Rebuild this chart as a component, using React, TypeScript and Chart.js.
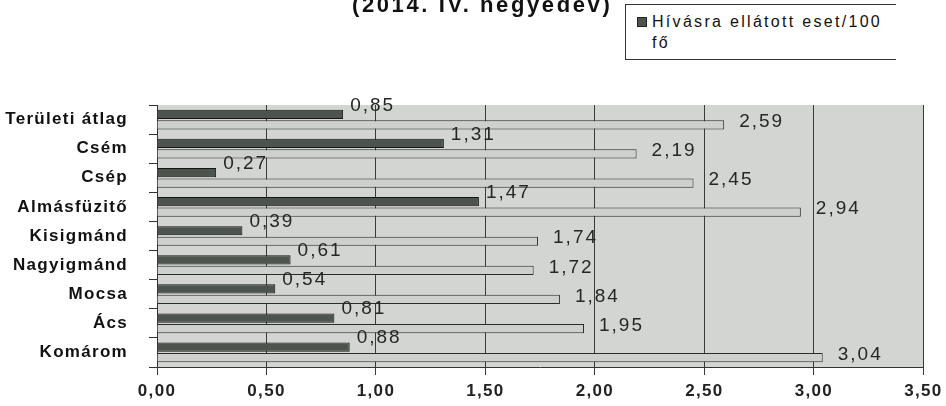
import React, { useEffect, useRef } from "react";
import { Chart, registerables } from "chart.js";

Chart.register(...registerables);

const categories = [
  "Területi átlag",
  "Csém",
  "Csép",
  "Almásfüzitő",
  "Kisigmánd",
  "Nagyigmánd",
  "Mocsa",
  "Ács",
  "Komárom",
];
const callsPer100 = [0.85, 1.31, 0.27, 1.47, 0.39, 0.61, 0.54, 0.81, 0.88];
const secondSeries = [2.59, 2.19, 2.45, 2.94, 1.74, 1.72, 1.84, 1.95, 3.04];
const seriesNames = ["Hívásra ellátott eset/100 fő", ""];
const titleText = "(2014. IV. negyedév)";
const xMin = 0;
const xMax = 3.5;
const xStep = 0.5;

const FONT = '"Liberation Sans", Arial, sans-serif';
const fmt = (v: number) => v.toFixed(2).replace(".", ",");

const DARK = "#4d544e";
const LIGHT = "#cdd0cc";

export default function App() {
  const ref = useRef<HTMLCanvasElement | null>(null);

  useEffect(() => {
    const canvas = ref.current;
    if (!canvas) return;

    const bgPlugin = {
      id: "wallBg",
      beforeDraw(chart: any) {
        const { ctx, chartArea } = chart;
        ctx.letterSpacing = "1.3px";
        ctx.save();
        ctx.fillStyle = "#d2d5d1";
        ctx.fillRect(
          chartArea.left,
          chartArea.top,
          chartArea.right - chartArea.left,
          chartArea.bottom - chartArea.top
        );
        ctx.restore();
      },
    };

    const labelPlugin = {
      id: "valueLabels",
      afterDatasetsDraw(chart: any) {
        const { ctx } = chart;
        ctx.save();
        ctx.font = `19px ${FONT}`;
        ctx.letterSpacing = "2px";
        ctx.fillStyle = "#262626";
        ctx.textAlign = "left";
        ctx.textBaseline = "middle";
        chart.data.datasets.forEach((ds: any, di: number) => {
          const meta = chart.getDatasetMeta(di);
          meta.data.forEach((el: any, i: number) => {
            const v = ds.data[i];
            const dx = di === 0 ? 7 : 15;
            const dy = di === 0 ? -9 : -3;
            ctx.fillText(fmt(v), el.x + dx, el.y + dy);
          });
        });
        ctx.restore();
      },
    };

    const chart = new Chart(canvas, {
      type: "bar",
      data: {
        labels: categories,
        datasets: [
          {
            label: seriesNames[0],
            data: callsPer100,
            backgroundColor: DARK,
            borderColor: "#151515",
            borderWidth: 1,
            categoryPercentage: 0.72,
            barPercentage: 0.88,
          },
          {
            label: seriesNames[1],
            data: secondSeries,
            backgroundColor: LIGHT,
            borderColor: "#2b2b2b",
            borderWidth: 1,
            categoryPercentage: 0.72,
            barPercentage: 0.88,
          },
        ],
      },
      options: {
        indexAxis: "y",
        responsive: false,
        animation: false,
        devicePixelRatio: 1,
        layout: { padding: { top: 105, right: 16, left: 0, bottom: 0 } },
        plugins: {
          legend: { display: false },
          title: { display: false },
          tooltip: { enabled: false },
        },
        scales: {
          y: {
            type: "category",
            grid: {
              offset: true,
              drawOnChartArea: false,
              drawTicks: true,
              tickLength: 8,
              color: "#333",
            },
            border: { display: true, color: "#333", width: 1 },
            ticks: {
              font: { family: FONT, size: 17, weight: "bold" },
              color: "#111",
              padding: 21,
            },
            afterFit: (s: any) => {
              s.width = 157;
            },
          },
          x: {
            type: "linear",
            min: xMin,
            max: xMax,
            ticks: {
              stepSize: xStep,
              callback: (v: any) => fmt(Number(v)),
              font: { family: FONT, size: 17, weight: "bold" },
              color: "#222",
              padding: 6,
            },
            grid: {
              color: "#3a3a3a",
              lineWidth: 1,
              tickLength: 8,
            },
            border: { display: true, color: "#333", width: 1 },
            afterFit: (s: any) => {
              s.height = 39;
            },
          },
        },
      },
      plugins: [bgPlugin, labelPlugin],
    } as any);

    return () => chart.destroy();
  }, []);

  return (
    <div
      style={{
        position: "fixed",
        left: 0,
        top: 0,
        width: 946,
        height: 406,
        background: "#fff",
        overflow: "hidden",
        fontFamily: FONT,
      }}
    >
      <canvas
        ref={ref}
        width={946}
        height={406}
        style={{ position: "absolute", left: 0, top: 0, width: 946, height: 406 }}
      />
      <div
        style={{
          position: "absolute",
          left: 352,
          top: -6,
          fontSize: 22,
          lineHeight: "22px",
          fontWeight: "bold",
          letterSpacing: "2.6px",
          color: "#111",
          whiteSpace: "nowrap",
        }}
      >
        {titleText}
      </div>
      <div
        style={{
          position: "absolute",
          left: 625,
          top: 4,
          width: 270,
          height: 54,
          borderTop: "1px solid #333",
          borderLeft: "1px solid #333",
          borderBottom: "1px solid #333",
          background: "#fff",
        }}
      >
        <div
          style={{
            position: "absolute",
            left: 11,
            top: 12,
            width: 8,
            height: 8,
            background: DARK,
            border: "1px solid #222",
          }}
        />
        <div
          style={{
            position: "absolute",
            left: 26,
            top: 6,
            fontSize: 16,
            lineHeight: "21px",
            letterSpacing: "2.3px",
            color: "#111",
            whiteSpace: "pre",
          }}
        >
          {"Hívásra ellátott eset/100\nfő"}
        </div>
      </div>
    </div>
  );
}
